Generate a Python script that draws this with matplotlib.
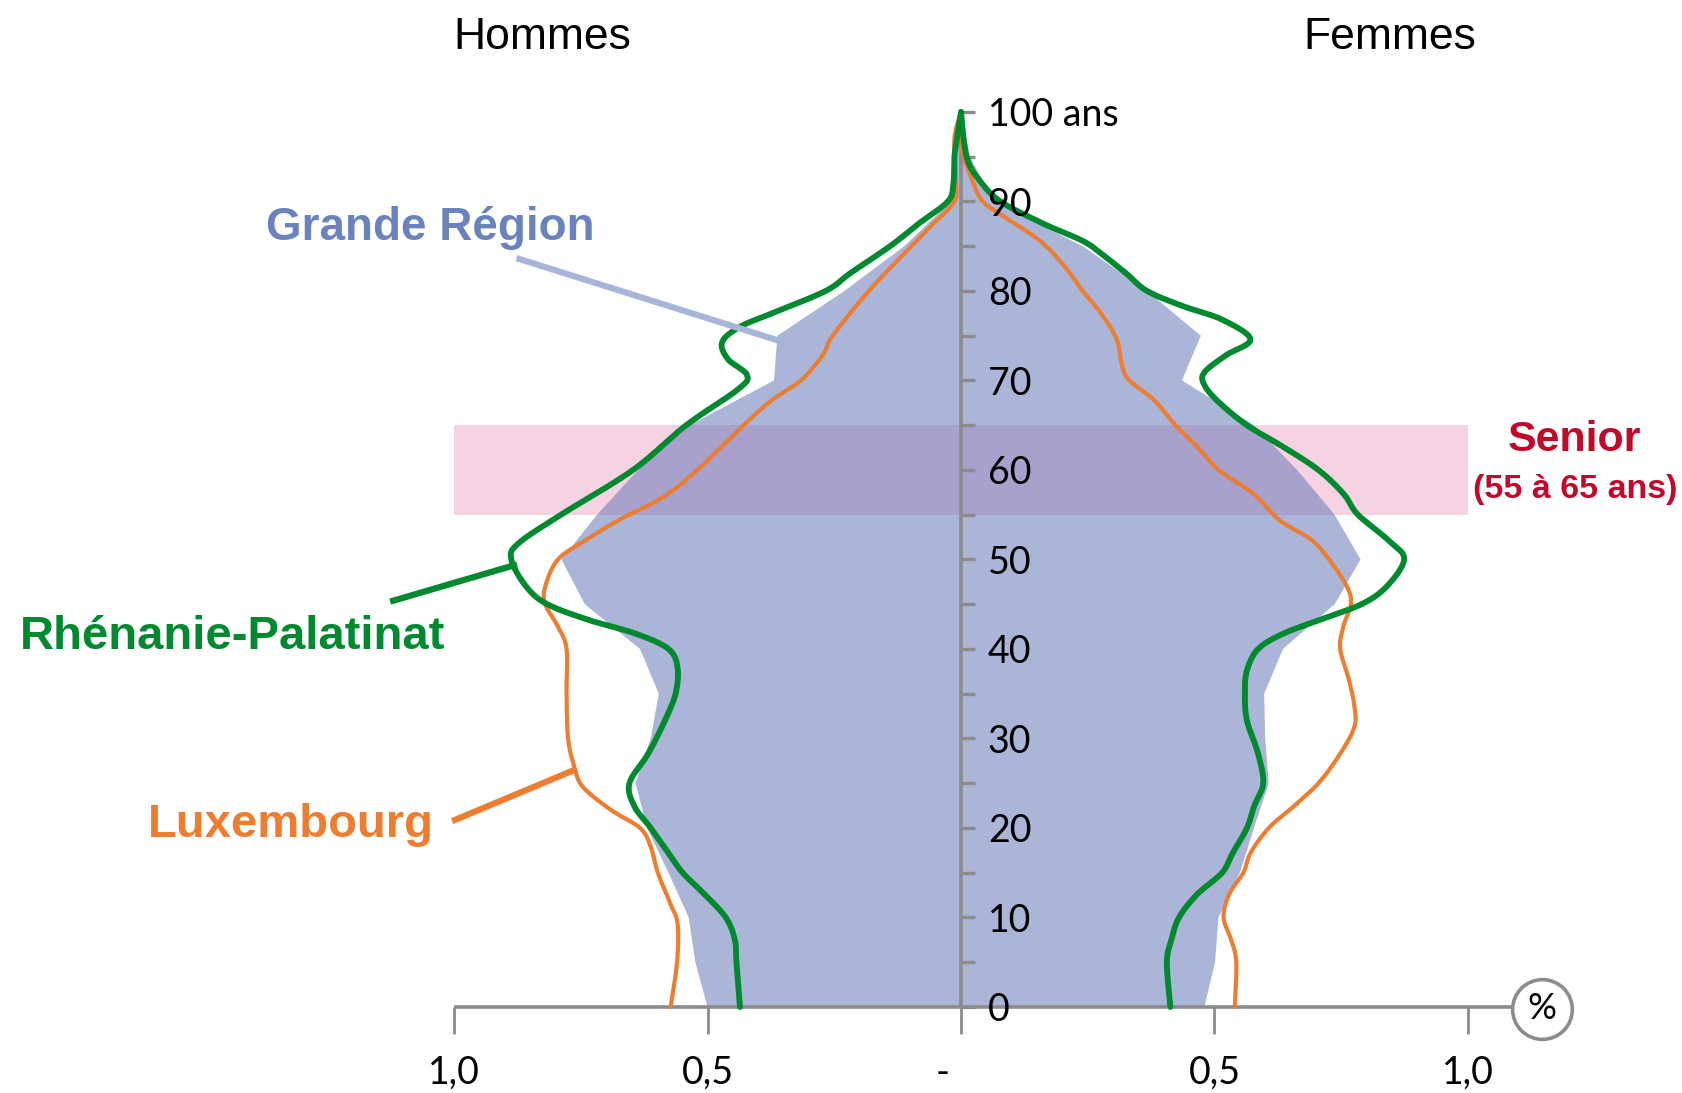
import matplotlib
matplotlib.use("Agg")
import matplotlib.pyplot as plt
import numpy as np

# ---------------- data ----------------
gr_ages = [0, 5, 10, 15, 20, 25, 30, 35, 40, 45, 50, 55, 60, 65, 70, 75, 80, 85, 90, 95, 100]
gr_hommes = [0.50, 0.524, 0.537, 0.577, 0.619, 0.642, 0.612, 0.596, 0.633, 0.742, 0.788,
             0.718, 0.637, 0.535, 0.369, 0.362, 0.23, 0.112, 0.02, 0.01, 0.0]
gr_femmes = [0.48, 0.501, 0.508, 0.55, 0.578, 0.607, 0.600, 0.598, 0.635, 0.737, 0.788,
             0.737, 0.663, 0.578, 0.436, 0.473, 0.367, 0.24, 0.064, 0.018, 0.0]

rp_ages_h = [0, 5, 7.5, 10, 12.6, 15, 17.2, 20, 22.4, 25, 28.3, 32, 35, 37.9, 40, 41.7, 43.2, 45,
             47, 50, 51.8, 55, 60, 65, 69, 70.6, 72.4, 74.3, 76, 77.5, 80, 82, 85, 87.5, 90, 92,
             95, 97, 100]
rp_hommes = [0.436, 0.443, 0.446, 0.464, 0.506, 0.549, 0.577, 0.612, 0.644, 0.654, 0.617, 0.584,
             0.563, 0.559, 0.577, 0.641, 0.732, 0.816, 0.858, 0.887, 0.873, 0.789, 0.647, 0.542,
             0.44, 0.422, 0.46, 0.471, 0.436, 0.373, 0.267, 0.218, 0.14, 0.084, 0.026, 0.015,
             0.013, 0.008, 0.0]
rp_ages_f = [0, 5, 7.5, 10, 12.6, 15, 17.2, 20, 22.4, 25, 28.3, 32, 35, 37.6, 40, 41.7, 43.2, 45,
             47, 50, 52, 55, 57.3, 60, 62.6, 65, 67.6, 69.5, 70.9, 72.8, 74.6, 76.8, 78.3, 80, 82,
             84.2, 85.6, 87.5, 90, 92.4, 95, 100]
rp_femmes = [0.413, 0.406, 0.415, 0.43, 0.466, 0.515, 0.536, 0.564, 0.578, 0.596, 0.586, 0.564,
             0.56, 0.564, 0.586, 0.635, 0.705, 0.79, 0.84, 0.874, 0.846, 0.783, 0.755, 0.705,
             0.635, 0.564, 0.508, 0.48, 0.48, 0.522, 0.571, 0.515, 0.438, 0.367, 0.325, 0.276,
             0.24, 0.163, 0.078, 0.036, 0.011, 0.0]

lu_ages_h = [0, 5, 9.3, 11.5, 15, 17.9, 20, 22, 24.6, 26.9, 30, 35, 40, 42.5, 45, 47, 50, 52.2,
             54.4, 57, 60, 65, 67.8, 70, 72.8, 75, 80, 85, 87.5, 90, 92.4, 97, 100]
lu_hommes = [0.573, 0.56, 0.559, 0.573, 0.598, 0.612, 0.633, 0.69, 0.746, 0.763, 0.775, 0.778,
             0.778, 0.795, 0.82, 0.82, 0.795, 0.739, 0.675, 0.587, 0.52, 0.429, 0.373, 0.316,
             0.273, 0.253, 0.182, 0.098, 0.055, 0.013, 0.01, 0.013, 0.0]
lu_ages_f = [0, 5, 7.5, 10, 12.6, 15, 17.2, 20, 22.4, 25, 28.3, 31.3, 33.6, 36.6, 40, 42.5, 45,
             47, 50, 52.2, 54.4, 57.3, 60, 62.6, 65, 67.8, 70, 71.6, 74.6, 77.5, 80, 82.7, 85.6,
             88.3, 90, 92.4, 96, 100]
lu_femmes = [0.54, 0.543, 0.533, 0.518, 0.529, 0.557, 0.571, 0.607, 0.656, 0.705, 0.748, 0.776,
             0.776, 0.765, 0.748, 0.754, 0.769, 0.761, 0.726, 0.691, 0.628, 0.578, 0.508, 0.466,
             0.423, 0.381, 0.332, 0.318, 0.307, 0.276, 0.24, 0.205, 0.156, 0.085, 0.043, 0.022,
             0.001, 0.0]

y_ticks = [0, 10, 20, 30, 40, 50, 60, 70, 80, 90, 100]
y_labels = ["0", "10", "20", "30", "40", "50", "60", "70", "80", "90", "100 ans"]
x_ticks = [-1.0, -0.5, 0.0, 0.5, 1.0]
x_labels = ["1,0", "0,5", "-", "0,5", "1,0"]
senior_range = [55, 65]

# ---------------- style ----------------
C_FILL = (0.40, 0.47, 0.72)
C_GREEN = "#00892F"
C_ORANGE = "#ED7D31"
C_GRAY = "#8C8C8C"
C_GRTXT = "#6A83BD"
C_LEADER = "#A9B4D9"
C_RED = "#C00A2B"
LABEL_FONT = ["Lato", "DejaVu Sans"]
BOLD_FONT = ["Liberation Sans", "DejaVu Sans"]


def smooth_path(xs, ys, n=12):
    """Catmull-Rom rendering of a smoothed line through the given points
    (like a spreadsheet 'smoothed line')."""
    P = np.column_stack([xs, ys]).astype(float)
    P = np.vstack([P[0], P, P[-1]])
    out = []
    t = np.linspace(0, 1, n, endpoint=False)[:, None]
    for i in range(1, len(P) - 2):
        p0, p1, p2, p3 = P[i - 1], P[i], P[i + 1], P[i + 2]
        seg = 0.5 * ((2 * p1) + (-p0 + p2) * t + (2 * p0 - 5 * p1 + 4 * p2 - p3) * t ** 2
                     + (-p0 + 3 * p1 - 3 * p2 + p3) * t ** 3)
        out.append(seg)
    out.append(P[-2][None, :])
    out = np.vstack(out)
    return out[:, 0], out[:, 1]


fig = plt.figure(figsize=(16.83, 10.93), dpi=100)
ax = fig.add_axes([0, 0, 1, 1])
ax.set_xlim(-1.8955, 1.4241)
ax.set_ylim(-9.61, 112.51)
ax.axis("off")

# senior band
ax.fill_between([-1, 1], senior_range[0], senior_range[1], color="#F6D3E3", lw=0, zorder=1)

# Grande Région filled pyramid
gx = np.concatenate([-np.array(gr_hommes), np.array(gr_femmes)[::-1]])
gy = np.concatenate([np.array(gr_ages), np.array(gr_ages)[::-1]])
ax.fill(gx, gy, color=C_FILL, alpha=0.55, lw=0, zorder=2)

# axes lines
ax.plot([0, 0], [0, 100], color=C_GRAY, lw=2.6, zorder=3, solid_capstyle="butt")
for t in range(0, 101, 5):
    ax.plot([0, 0.027], [t, t], color=C_GRAY, lw=2.4, zorder=3, solid_capstyle="butt")
ax.plot([-1, 1.09], [0, 0], color=C_GRAY, lw=2.6, zorder=3, solid_capstyle="butt")
for t in x_ticks:
    ax.plot([t, t], [0, -3.0], color=C_GRAY, lw=2.0, zorder=3, solid_capstyle="butt")

# series lines (smoothed)
for vals, ages, sign, col, lw, z in [
        (lu_hommes, lu_ages_h, -1, C_ORANGE, 3.0, 4),
        (lu_femmes, lu_ages_f, 1, C_ORANGE, 3.0, 4),
        (rp_hommes, rp_ages_h, -1, C_GREEN, 4.2, 5),
        (rp_femmes, rp_ages_f, 1, C_GREEN, 4.2, 5)]:
    sx, sy = smooth_path(sign * np.array(vals), ages)
    ax.plot(sx, sy, color=col, lw=lw, zorder=z, solid_joinstyle="round",
            solid_capstyle="round")

# y tick labels
for t, lab in zip(y_ticks, y_labels):
    ax.text(0.053, t - 0.35, lab, ha="left", va="center", fontsize=27, family=LABEL_FONT,
            color="black", zorder=6)

# x tick labels
for t, lab in zip(x_ticks, x_labels):
    xx = t - 0.036 if lab == "-" else t
    ax.text(xx, -7.4, lab, ha="center", va="center", fontsize=27, family=LABEL_FONT,
            color="black", zorder=6)

# percent circle
ax.plot([1.146], [-0.2], marker="o", ms=43, mfc="white", mec=C_GRAY, mew=2.6, zorder=6)
ax.text(1.146, -0.2, "%", ha="center", va="center", fontsize=26, family=LABEL_FONT, zorder=7)

# titles
ax.text(-0.825, 108.3, "Hommes", ha="center", va="center", fontsize=32, family=BOLD_FONT)
ax.text(0.846, 108.3, "Femmes", ha="center", va="center", fontsize=32, family=BOLD_FONT)

# annotations
ax.text(-1.0465, 87.0, "Grande Région", ha="center", va="center", fontsize=33,
        fontweight="bold", family=BOLD_FONT, color=C_GRTXT)
ax.plot([-0.871, -0.359], [83.57, 74.44], color=C_LEADER, lw=4.5, zorder=6)

ax.text(-1.4375, 41.3, "Rhénanie-Palatinat", ha="center", va="center", fontsize=34,
        fontweight="bold", family=BOLD_FONT, color=C_GREEN)
ax.plot([-1.120, -0.8816], [45.39, 49.35], color=C_GREEN, lw=4.5, zorder=6)

ax.text(-1.321, 20.3, "Luxembourg", ha="center", va="center", fontsize=34,
        fontweight="bold", family=BOLD_FONT, color=C_ORANGE)
ax.plot([-0.998, -0.7654], [20.9, 26.42], color=C_ORANGE, lw=4.5, zorder=6)

ax.text(1.211, 63.3, "Senior", ha="center", va="center", fontsize=31,
        fontweight="bold", family=BOLD_FONT, color=C_RED)
ax.text(1.211, 57.8, "(55 à 65 ans)", ha="center", va="center", fontsize=24.5,
        fontweight="bold", family=BOLD_FONT, color=C_RED)

fig.savefig("out.png", dpi=100)
